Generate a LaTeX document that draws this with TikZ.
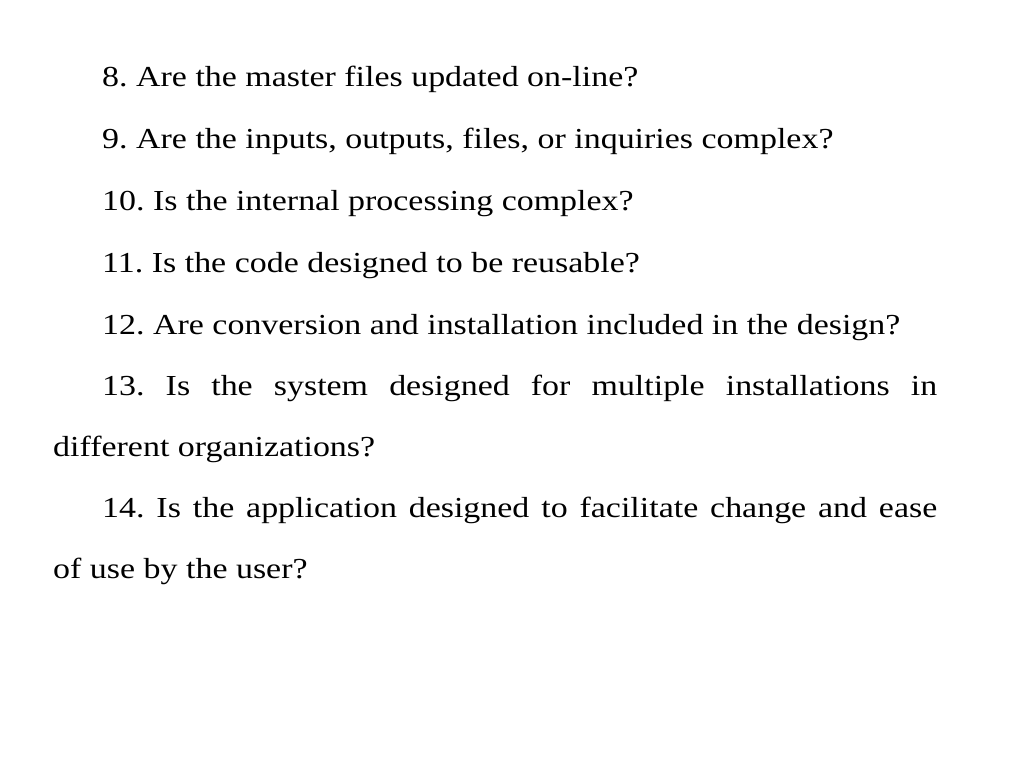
\documentclass[tikz,border=0pt]{standalone}
\usepackage{fontspec}
\setmainfont{Liberation Serif}
\frenchspacing
\begin{document}
\begin{tikzpicture}[x=1pt,y=-1pt,
  ln/.style={anchor=base west,inner sep=0pt,xscale=1.17,transform shape,font=\fontsize{29}{34}\selectfont}]
\useasboundingbox (0,0) rectangle (1024,768);
\node[ln] (l1) at (102,86) {8. Are the master files updated on-line?};
\node[ln] (l2) at (102,148) {9. Are the inputs, outputs, files, or inquiries complex?};
\node[ln] (l3) at (102,210) {10. Is the internal processing complex?};
\node[ln] (l4) at (102,272) {11. Is the code designed to be reusable?};
\node[ln] (l5) at (102,334) {12. Are conversion and installation included in the design?};
\node[ln] (l6) at (102,395) {\makebox[713.7pt][s]{13. Is the system designed for multiple installations in}};
\node[ln] (l7) at (53,456) {different organizations?};
\node[ln] (l8) at (102,517) {\makebox[713.7pt][s]{14. Is the application designed to facilitate change and ease}};
\node[ln] (l9) at (53,578) {of use by the user?};
\end{tikzpicture}
\end{document}
